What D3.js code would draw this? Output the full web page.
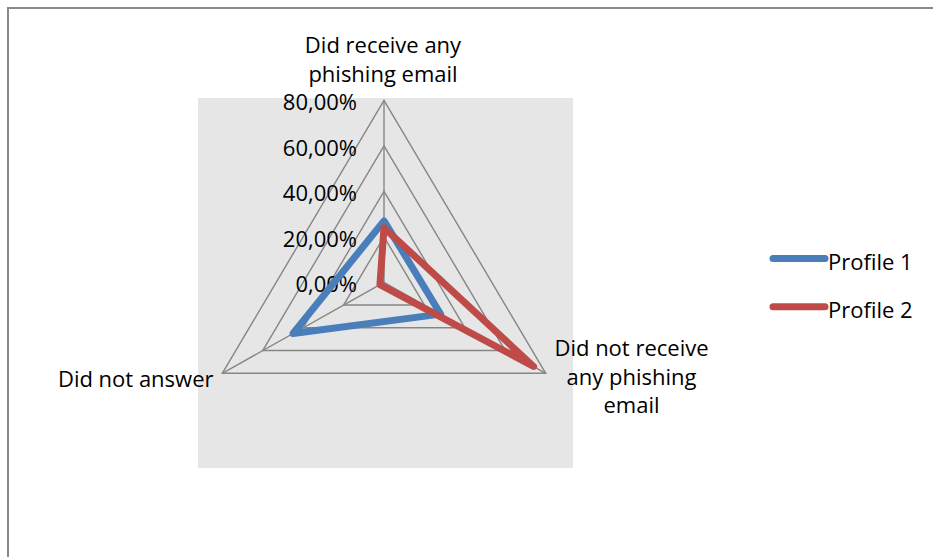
<!DOCTYPE html>
<html>
<head>
<meta charset="utf-8">
<script src="https://cdn.jsdelivr.net/npm/d3@7"></script>
<style>
  html, body { margin: 0; padding: 0; background: #fff; }
  svg { display: block; }
  text { font-family: "Open Sans", "Noto Sans", sans-serif; fill: #000; }
</style>
</head>
<body>
<svg id="chart" width="933" height="557"></svg>
<script>
// Radar axes (clockwise from the top) and the share of answers per profile
const axes = [
  ["Did receive any", "phishing email"],
  ["Did not receive", "any phishing", "email"],
  ["Did not answer"]
];
const seriesNames = ["Profile 1", "Profile 2"];
const profile1 = [0.27, 0.28, 0.45];
const profile2 = [0.24, 0.74, 0.02];
const tickValues = [0, 0.2, 0.4, 0.6, 0.8];
const tickLabels = ["0,00%", "20,00%", "40,00%", "60,00%", "80,00%"];
const colors = ["#4a7ebb", "#be4b48"];

const svg = d3.select("#chart");

// chart frame (right and bottom edges fall outside the page)
svg.append("rect")
  .attr("x", 8).attr("y", 8).attr("width", 1000).attr("height", 700)
  .attr("fill", "none").attr("stroke", "#898989").attr("stroke-width", 2);

// plot area
svg.append("rect")
  .attr("x", 198).attr("y", 98).attr("width", 375).attr("height", 370)
  .attr("fill", "#e6e6e6");

const cx = 384, cy = 282.3;
const r = d3.scaleLinear().domain([0, 0.8]).range([0, 182]);
const xStretch = 1.026;
const angle = d3.scaleLinear().domain([0, axes.length]).range([-Math.PI / 2, 1.5 * Math.PI]);

function pt(i, v) {
  const a = angle(i);
  return [cx + r(v) * Math.cos(a) * xStretch, cy + r(v) * Math.sin(a)];
}

const closedLine = d3.line().curve(d3.curveLinearClosed);

// grid rings
const grid = svg.append("g");
tickValues.filter(t => t > 0).forEach(t => {
  grid.append("path")
    .attr("d", closedLine(axes.map((_, i) => pt(i, t))))
    .attr("fill", "none").attr("stroke", "#868686").attr("stroke-width", 1.4);
});
// spokes
axes.forEach((_, i) => {
  const [x, y] = pt(i, tickValues[tickValues.length - 1]);
  grid.append("line")
    .attr("x1", cx).attr("y1", cy).attr("x2", x).attr("y2", y)
    .attr("stroke", "#868686").attr("stroke-width", 1.4);
});

const fs = 22;

// value labels along the vertical axis
svg.append("g").selectAll("text")
  .data(tickValues)
  .join("text")
  .attr("x", 357)
  .attr("y", d => cy - r(d) + 10)
  .attr("text-anchor", "end")
  .attr("font-size", fs)
  .text((d, i) => tickLabels[i]);

// category labels
const lineGap = 28.5;
const catPos = [
  { x: 383, y: 53, anchor: "middle" },
  { x: 631.5, y: 356, anchor: "middle" },
  { x: 213.5, y: 387, anchor: "end" }
];
axes.forEach((lines, i) => {
  const t = svg.append("text")
    .attr("x", catPos[i].x).attr("y", catPos[i].y)
    .attr("text-anchor", catPos[i].anchor)
    .attr("font-size", fs);
  lines.forEach((s, j) => {
    t.append("tspan").attr("x", catPos[i].x).attr("dy", j === 0 ? 0 : lineGap).text(s);
  });
});

// series
[profile1, profile2].forEach((vals, k) => {
  svg.append("path")
    .attr("d", closedLine(vals.map((v, i) => pt(i, v))))
    .attr("fill", "none")
    .attr("stroke", colors[k])
    .attr("stroke-width", 7)
    .attr("stroke-linejoin", "round");
});

// legend
const legend = svg.append("g");
seriesNames.forEach((name, k) => {
  const y = 258.5 + k * 48.3;
  legend.append("line")
    .attr("x1", 773).attr("x2", 825).attr("y1", y).attr("y2", y)
    .attr("stroke", colors[k]).attr("stroke-width", 7).attr("stroke-linecap", "round");
  legend.append("text")
    .attr("x", 828).attr("y", y + 11.5)
    .attr("font-size", fs)
    .text(name);
});
</script>
</body>
</html>
